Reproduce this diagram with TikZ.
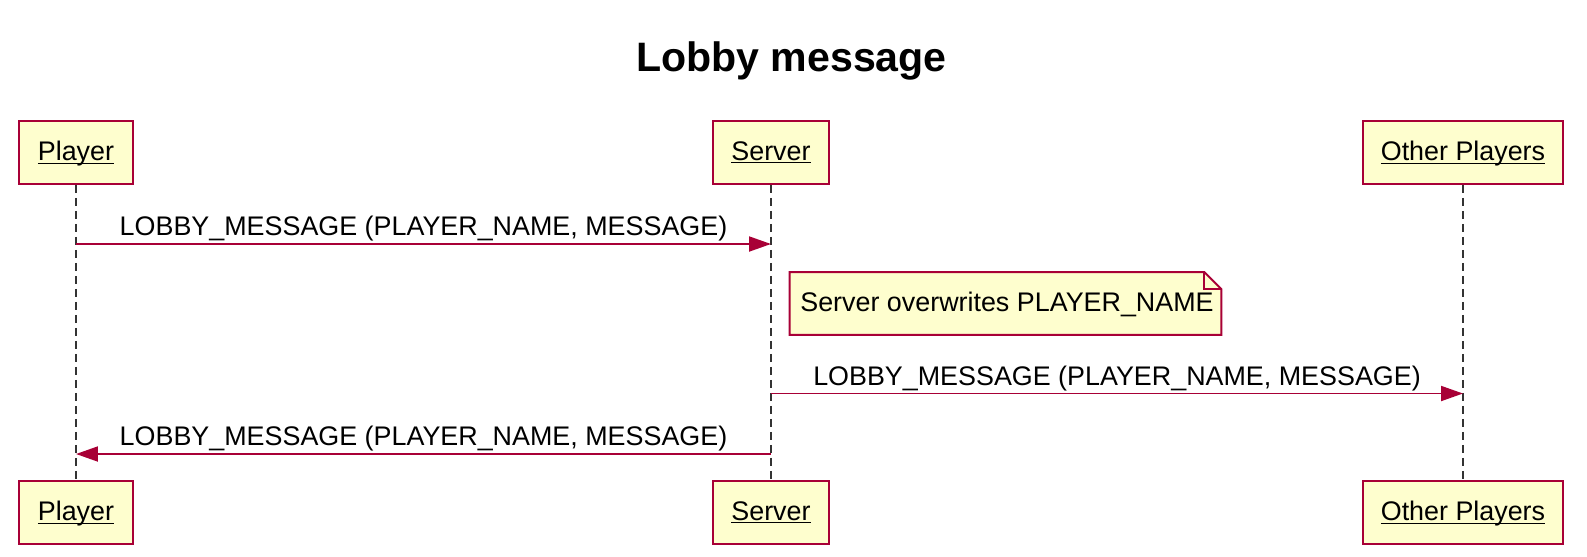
\documentclass[tikz,border=0pt]{standalone}
\usepackage{fontspec}
\setmainfont{Liberation Sans}
\usetikzlibrary{positioning}
\usetikzlibrary{calc}
\usetikzlibrary{arrows.meta}
\definecolor{umlred}{HTML}{A80036}
\definecolor{umlfill}{HTML}{FEFECE}
\newcommand{\ulname}[1]{\underline{\raisebox{0pt}[\height][0pt]{#1}}}

\begin{document}
\begin{tikzpicture}
  [x = 0.02cm, y = -0.02cm,
   every node/.style = {font = \fontsize{15.3}{18}\selectfont},
   actor/.style = {draw = umlred, fill = umlfill, line width = 1.1pt,
                   minimum height = 1.26cm, minimum width = 2.28cm, inner xsep = 0.36cm},
   life/.style = {black!80, line width = 0.9pt, dash pattern = on 0.16cm off 0.1cm},
   msg/.style = {umlred, line width = 1.1pt, -{Triangle[length = 0.44cm, width = 0.3cm]}},
   lbl/.style = {black, above, inner sep = 1pt}]
  \useasboundingbox (0, 0) rectangle (1587, 556);

  \node [font = \fontsize{23.4}{27}\selectfont\bfseries] (title) at (791.5, 61) {Lobby message};

  \node [actor] (pl) at (76, 152.5) {\ulname{Player}};
  \node [actor] (sv) at (771, 152.5) {\ulname{Server}};
  \node [actor] (op) at (1463, 152.5) {\ulname{Other Players}};

  \node [actor] (plb) at (76, 512.5) {\ulname{Player}};
  \node [actor] (svb) at (771, 512.5) {\ulname{Server}};
  \node [actor] (opb) at (1463, 512.5) {\ulname{Other Players}};

  \draw [life] (pl) -- (plb);
  \draw [life] (sv) -- (svb);
  \draw [life] (op) -- (opb);

  % message points on the lifelines
  \coordinate (m1a) at (76, 244);
  \coordinate (m1b) at (771, 244);
  \coordinate (m2a) at (771, 393.5);
  \coordinate (m2b) at (1463, 393.5);
  \coordinate (m3a) at (771, 454);
  \coordinate (m3b) at (76, 454);

  \draw [msg] (m1a) -- node [lbl] {LOBBY\_MESSAGE (PLAYER\_NAME, MESSAGE)} (m1b);

  % note with folded corner
  \node [minimum width = 8.62cm, minimum height = 1.24cm, inner sep = 0pt] (note) at (1005.5, 303.5) {};
  \draw [umlred, fill = umlfill, line width = 1.1pt]
    (note.south west) -- (note.north west) -- ($(note.north east) + (-17, 0)$)
    -- ($(note.north east) + (0, 17)$) -- (note.south east) -- cycle;
  \draw [umlred, line width = 1.1pt]
    ($(note.north east) + (-17, 0)$) -- ($(note.north east) + (-17, 17)$) -- ($(note.north east) + (0, 17)$);
  \node [anchor = west, inner sep = 0pt] (notetext) at (800, 304) {Server overwrites PLAYER\_NAME};

  \draw [msg] (m2a) -- node [lbl] {LOBBY\_MESSAGE (PLAYER\_NAME, MESSAGE)} (m2b);
  \draw [msg] (m3a) -- node [lbl] {LOBBY\_MESSAGE (PLAYER\_NAME, MESSAGE)} (m3b);
\end{tikzpicture}
\end{document}
